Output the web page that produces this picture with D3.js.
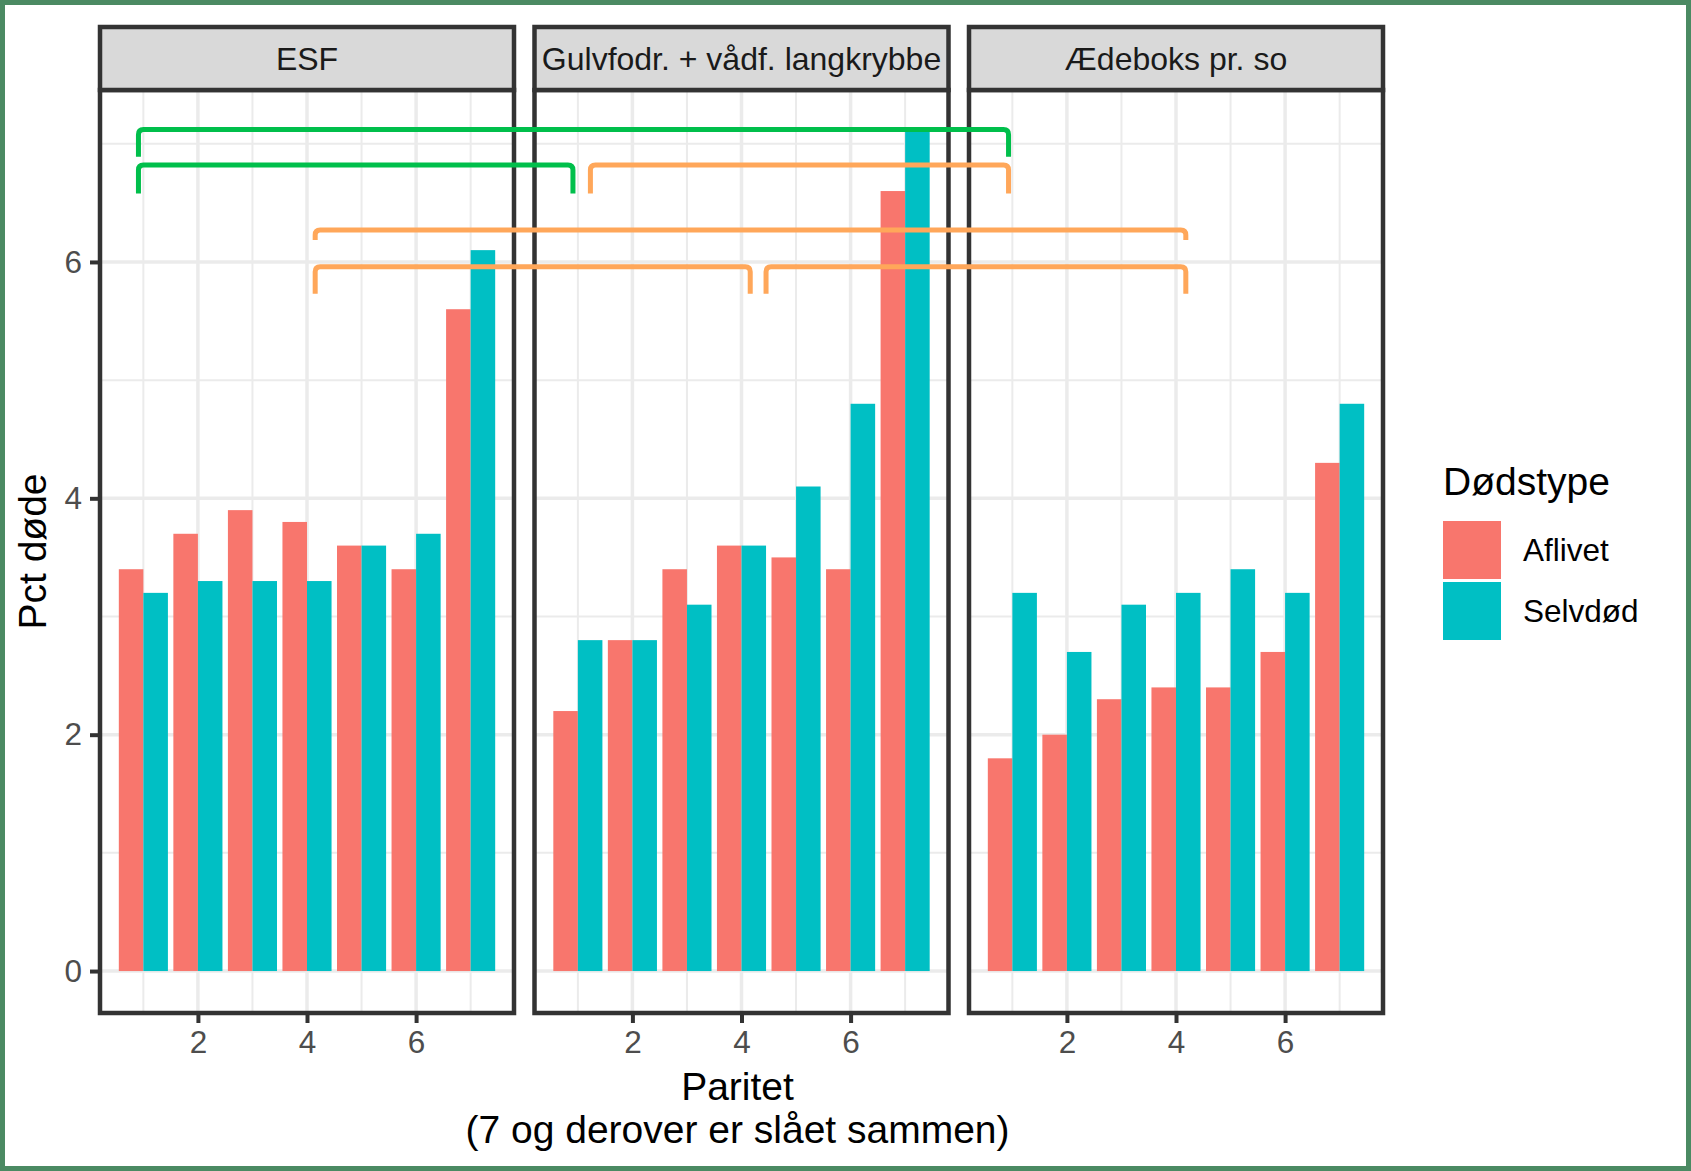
<!DOCTYPE html>
<html>
<head>
<meta charset="utf-8">
<script src="https://cdn.jsdelivr.net/npm/d3@7"></script>
<style>
  html, body { margin: 0; padding: 0; background: #fff; }
  svg { display: block; font-family: "Liberation Sans", Arial, Helvetica, sans-serif; }
</style>
</head>
<body>
<svg id="chart" width="1691" height="1171"></svg>
<script>
// ---------- data ----------
const facets = ["ESF", "Gulvfodr. + vådf. langkrybbe", "Ædeboks pr. so"];
const parities = [1, 2, 3, 4, 5, 6, 7];
const series = ["Aflivet", "Selvdød"];
const esfAflivet      = [3.4, 3.7, 3.9, 3.8, 3.6, 3.4, 5.6];
const esfSelvdod      = [3.2, 3.3, 3.3, 3.3, 3.6, 3.7, 6.1];
const gulvAflivet     = [2.2, 2.8, 3.4, 3.6, 3.5, 3.4, 6.6];
const gulvSelvdod     = [2.8, 2.8, 3.1, 3.6, 4.1, 4.8, 7.1];
const aedeAflivet     = [1.8, 2.0, 2.3, 2.4, 2.4, 2.7, 4.3];
const aedeSelvdod     = [3.2, 2.7, 3.1, 3.2, 3.4, 3.2, 4.8];
const yTicks = [0, 2, 4, 6];
const xTicks = [2, 4, 6];
const yTitle = "Pct døde";
const xTitle = ["Paritet", "(7 og derover er slået sammen)"];
const legendTitle = "Dødstype";

// comparison brackets (facet index + parity position at each end, level in % units)
const bracketFromFacet = [0, 0, 1, 0, 0, 1];
const bracketFromX     = [0.91, 0.91, 1.23, 4.15, 4.15, 4.45];
const bracketToFacet   = [2, 1, 2, 2, 1, 2];
const bracketToX       = [0.93, 0.91, 0.93, 4.18, 4.16, 4.18];
const bracketLevel     = [7.12, 6.82, 6.82, 6.27, 5.96, 5.96];
const bracketDrop      = [0.23, 0.24, 0.24, 0.085, 0.23, 0.23];
const bracketGroup     = ["A", "A", "B", "B", "B", "B"];

const values = [
  [esfAflivet, esfSelvdod],
  [gulvAflivet, gulvSelvdod],
  [aedeAflivet, aedeSelvdod]
];

// ---------- layout ----------
const svg = d3.select("#chart");
const W = 1691, H = 1171;
const panelW = 414, gap = 20.5, panelX0 = 100;
const stripTop = 27, panelTop = 90, panelBottom = 1013;
const dark = "#333333";

svg.append("rect").attr("x", 2.5).attr("y", 2.5).attr("width", W - 5).attr("height", H - 5)
  .attr("fill", "#fff").attr("stroke", "#4B8A63").attr("stroke-width", 5);

const x = d3.scaleLinear().domain([0.205, 7.795]).range([0, panelW]);
const y = d3.scaleLinear().domain([-0.355, 7.455]).range([panelBottom, panelTop]);
const color = d3.scaleOrdinal().domain(series).range(["#F8766D", "#00BFC4"]);
const dodge = d3.scaleBand().domain(series).range([-0.45, 0.45]);
const bracketColor = d3.scaleOrdinal().domain(["A", "B"]).range(["#00BF4B", "#FFA75A"]);
const panelLeft = i => panelX0 + i * (panelW + gap);

facets.forEach((name, fi) => {
  const g = svg.append("g").attr("transform", `translate(${panelLeft(fi)},0)`);
  // grid minor
  [1, 3, 5, 7].forEach(v => {
    g.append("line").attr("x1", 0).attr("x2", panelW).attr("y1", y(v)).attr("y2", y(v))
      .attr("stroke", "#EBEBEB").attr("stroke-width", 2);
    g.append("line").attr("x1", x(v)).attr("x2", x(v)).attr("y1", panelTop).attr("y2", panelBottom)
      .attr("stroke", "#EBEBEB").attr("stroke-width", 2);
  });
  // grid major
  yTicks.forEach(v => {
    g.append("line").attr("x1", 0).attr("x2", panelW).attr("y1", y(v)).attr("y2", y(v))
      .attr("stroke", "#EBEBEB").attr("stroke-width", 3.5);
  });
  xTicks.forEach(v => {
    g.append("line").attr("x1", x(v)).attr("x2", x(v)).attr("y1", panelTop).attr("y2", panelBottom)
      .attr("stroke", "#EBEBEB").attr("stroke-width", 3.5);
  });
  // bars
  series.forEach((s, si) => {
    g.selectAll(null).data(parities).enter().append("rect")
      .attr("x", p => x(p + dodge(s)))
      .attr("width", p => x(p + dodge(s) + dodge.bandwidth()) - x(p + dodge(s)))
      .attr("y", (p, i) => y(values[fi][si][i]))
      .attr("height", (p, i) => y(0) - y(values[fi][si][i]))
      .attr("fill", color(s));
  });
  // x axis
  const ax = g.append("g").attr("transform", `translate(0,${panelBottom})`)
    .call(d3.axisBottom(x).tickValues(xTicks).tickSize(10).tickPadding(8).tickFormat(d3.format("d")));
  ax.select(".domain").remove();
  ax.selectAll("line").attr("stroke", dark).attr("stroke-width", 4);
  ax.selectAll("text").attr("font-size", 31.5).attr("fill", "#4D4D4D");
  // panel border
  g.append("rect").attr("x", 0).attr("y", panelTop).attr("width", panelW).attr("height", panelBottom - panelTop)
    .attr("fill", "none").attr("stroke", dark).attr("stroke-width", 4.5);
  // strip
  g.append("rect").attr("x", 0).attr("y", stripTop).attr("width", panelW).attr("height", panelTop - stripTop)
    .attr("fill", "#D9D9D9").attr("stroke", dark).attr("stroke-width", 4.5);
  g.append("text").attr("x", panelW / 2).attr("y", (stripTop + panelTop) / 2 + 11.5)
    .attr("text-anchor", "middle").attr("font-size", 32).attr("fill", "#1A1A1A").text(name);
});

// y axis on first panel
const ay = svg.append("g").attr("transform", `translate(${panelX0},0)`)
  .call(d3.axisLeft(y).tickValues(yTicks).tickSize(10).tickPadding(8).tickFormat(d3.format("d")));
ay.select(".domain").remove();
ay.selectAll("line").attr("stroke", dark).attr("stroke-width", 4);
ay.selectAll("text").attr("font-size", 31.5).attr("fill", "#4D4D4D");

// brackets
const r = 5;
bracketLevel.forEach((lvl, i) => {
  const x1 = panelLeft(bracketFromFacet[i]) + x(bracketFromX[i]);
  const x2 = panelLeft(bracketToFacet[i]) + x(bracketToX[i]);
  const yt = y(lvl), yb = y(lvl - bracketDrop[i]);
  const rr = Math.min(r, (yb - yt) * 0.8);
  const path = `M${x1},${yb} L${x1},${yt + rr} Q${x1},${yt} ${x1 + rr},${yt} L${x2 - rr},${yt} Q${x2},${yt} ${x2},${yt + rr} L${x2},${yb}`;
  svg.append("path").attr("d", path).attr("fill", "none")
    .attr("stroke", bracketColor(bracketGroup[i])).attr("stroke-width", 5);
});

// axis titles
const plotCenterX = (panelX0 + panelLeft(2) + panelW) / 2;
svg.append("text").attr("x", plotCenterX - 4).attr("y", 1100).attr("text-anchor", "middle")
  .attr("font-size", 39).attr("fill", "#000").text(xTitle[0]);
svg.append("text").attr("x", plotCenterX - 4).attr("y", 1143).attr("text-anchor", "middle")
  .attr("font-size", 39).attr("fill", "#000").text(xTitle[1]);
svg.append("text").attr("transform", `translate(46,${(panelTop + panelBottom) / 2}) rotate(-90)`)
  .attr("text-anchor", "middle").attr("font-size", 39).attr("fill", "#000").text(yTitle);

// legend
const lg = svg.append("g").attr("transform", "translate(1443,0)");
lg.append("text").attr("x", 0).attr("y", 495).attr("font-size", 39).attr("fill", "#000").text(legendTitle);
series.forEach((s, i) => {
  const ky = 521 + i * 61;
  lg.append("rect").attr("x", 0).attr("y", ky).attr("width", 58).attr("height", 58).attr("fill", color(s));
  lg.append("text").attr("x", 80).attr("y", ky + 29 + 11).attr("font-size", 31.5).attr("fill", "#000").text(s);
});
</script>
</body>
</html>
